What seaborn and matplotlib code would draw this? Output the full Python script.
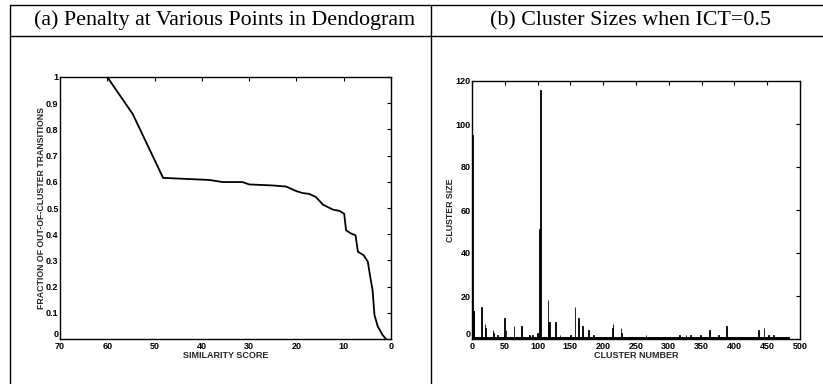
import numpy as np
import pandas as pd
import matplotlib
matplotlib.use("Agg")
import matplotlib.pyplot as plt
from matplotlib.lines import Line2D
import seaborn as sns

# (a) penalty curve along the dendrogram
similarity = [60, 54.6, 48.2, 38.4, 35.6, 31.4, 30.0, 25.0, 22.2, 20.1, 18.7,
              17.3, 15.9, 14.4, 12.3, 10.9, 9.9, 9.5, 8.5, 7.5, 7.0, 5.8, 4.9,
              4.4, 3.9, 3.5, 2.8, 1.8, 1.06]
penalty = [1.0, 0.858, 0.615, 0.607, 0.599, 0.599, 0.590, 0.586, 0.582, 0.565,
           0.557, 0.554, 0.542, 0.513, 0.494, 0.489, 0.478, 0.415, 0.403, 0.396,
           0.333, 0.320, 0.295, 0.238, 0.187, 0.092, 0.048, 0.016, 0.0]
sim_ticks = [70, 60, 50, 40, 30, 20, 10, 0]
pen_ticks = [0, 0.1, 0.2, 0.3, 0.4, 0.5, 0.6, 0.7, 0.8, 0.9, 1.0]
pen_tick_labels = ["0", "0.1", "0.2", "0.3", "0.4", "0.5", "0.6", "0.7", "0.8", "0.9", "1"]

# (b) cluster sizes: every cluster has one member unless listed here
n_clusters = 482
base_size = 1
large_ids = [1, 2, 3, 14, 20, 21, 32, 33, 39, 50, 52, 64, 75, 76, 88, 92, 100,
             103, 104, 116, 117, 118, 127, 134, 150, 157, 162, 168, 169, 178,
             185, 214, 215, 227, 228, 265, 316, 326, 333, 348, 362, 376, 388,
             437, 445, 452, 460]
large_sizes = [95, 13, 13, 15, 7, 5, 4, 3, 2, 10, 4, 6, 6, 3, 2, 2, 3,
               51, 116, 18, 8, 8, 8, 2, 2, 15, 10, 6, 3, 4,
               2, 5, 7, 5, 3, 2, 2, 2, 2, 2, 4, 2, 6,
               4, 5, 2, 2]
num_ticks = [0, 50, 100, 150, 200, 250, 300, 350, 400, 450, 500]
size_ticks = [0, 20, 40, 60, 80, 100, 120]

ids = np.arange(1, n_clusters + 1)
sizes = np.full(n_clusters, base_size, dtype=float)
sizes[np.array(large_ids) - 1] = large_sizes
clusters = pd.DataFrame({"cluster": ids, "size": sizes})

sns.set_style("white")
plt.rcParams["font.family"] = ["Liberation Sans", "DejaVu Sans"]

fig = plt.figure(figsize=(8.23, 3.84), dpi=100)
ax1 = fig.add_axes([60 / 823, 1 - 339 / 384, 331 / 823, 262 / 384])
ax2 = fig.add_axes([472 / 823, 1 - 339 / 384, 328 / 823, 258 / 384])

sns.lineplot(x=similarity, y=penalty, sort=False, estimator=None,
             color="black", linewidth=1.3, ax=ax1)
ax1.set_xlim(70, 0)
ax1.set_ylim(0, 1)
ax1.set_xticks(sim_ticks)
ax1.set_xticklabels([str(t) for t in sim_ticks])
ax1.set_yticks(pen_ticks)
ax1.set_yticklabels(pen_tick_labels)
ax1.set_xlabel("SIMILARITY SCORE", fontsize=6.5, fontweight="bold", labelpad=0.5)
ax1.set_ylabel("FRACTION OF OUT-OF-CLUSTER TRANSITIONS", fontsize=6.3,
               fontweight="bold", labelpad=0)

sns.barplot(data=clusters, x="cluster", y="size", native_scale=True,
            width=1.0, color="black", edgecolor="black", linewidth=0.6,
            saturation=1, errorbar=None, ax=ax2)
ax2.set_xlim(0, 500)
ax2.set_ylim(0, 120)
ax2.set_xticks(num_ticks)
ax2.set_xticklabels([str(t) for t in num_ticks])
ax2.set_yticks(size_ticks)
ax2.set_yticklabels([str(t) for t in size_ticks])
ax2.set_xlabel("CLUSTER NUMBER", fontsize=6.5, fontweight="bold", labelpad=0.5)
ax2.set_ylabel("CLUSTER SIZE", fontsize=6.3, fontweight="bold", labelpad=0)

for ax in (ax1, ax2):
    ax.tick_params(direction="in", length=3, width=0.8, top=True, right=True,
                   labelsize=6.5, colors="black")
    ax.tick_params(axis="x", pad=2)
    ax.tick_params(axis="y", pad=1)
    for lbl in ax.get_xticklabels() + ax.get_yticklabels():
        lbl.set_fontweight("bold")
    for s in ax.spines.values():
        s.set_color("black")
        s.set_linewidth(1.0)
        s.set_visible(True)

# the "0" on each value axis sits just above the corner, clear of the x labels
for ax in (ax1, ax2):
    ax.get_yticklabels()[0].set_verticalalignment("bottom")

# table frame around the two panels
frame_kw = dict(color="black", linewidth=1.0, transform=fig.transFigure)
y_top = 1 - 5 / 384
y_head = 1 - 35.5 / 384
x_left = 10 / 823
x_mid = 431 / 823
fig.add_artist(Line2D([x_left, 1], [y_top, y_top], **frame_kw))
fig.add_artist(Line2D([x_left, 1], [y_head, y_head], **frame_kw))
fig.add_artist(Line2D([x_left, x_left], [0, y_top], **frame_kw))
fig.add_artist(Line2D([x_mid, x_mid], [0, y_top], **frame_kw))

title_kw = dict(family=["Liberation Serif", "DejaVu Serif"], fontsize=15.8,
                ha="center", va="center", color="black")
fig.text(225 / 823, 1 - 20.5 / 384, "(a) Penalty at Various Points in Dendogram", **title_kw)
fig.text(631 / 823, 1 - 20.5 / 384, "(b) Cluster Sizes when ICT=0.5", **title_kw)

fig.savefig("out.png", dpi=100)
